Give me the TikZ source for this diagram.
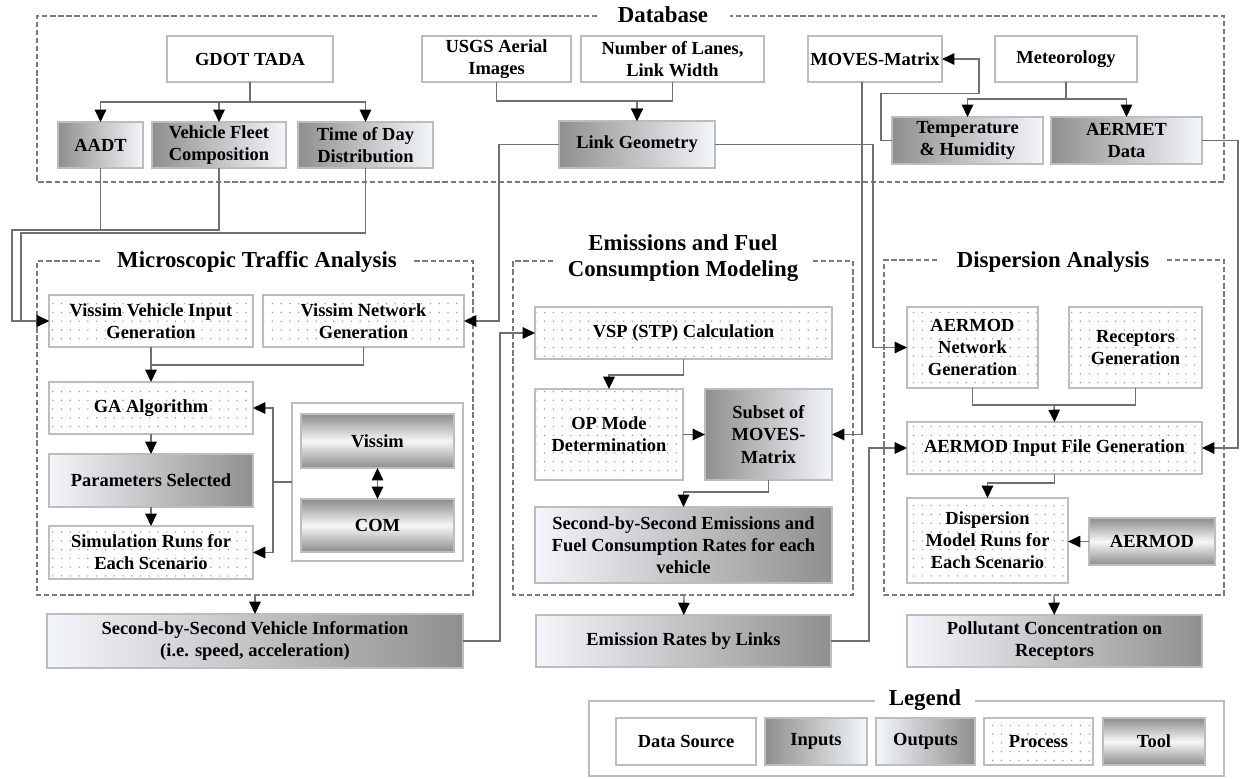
\documentclass[tikz,border=0pt]{standalone}
\usepackage{fontspec}
\setmainfont{Liberation Serif}
\usetikzlibrary{arrows.meta,calc,patterns.meta}
\definecolor{boxline}{HTML}{BDBDBD}
\definecolor{linegray}{HTML}{707070}
\definecolor{dashgray}{HTML}{7A7A7A}
\definecolor{shadedark}{HTML}{8F8F8F}
\definecolor{shadelight}{HTML}{F3F6FA}
\definecolor{tooldark}{HTML}{8C8C8C}
\definecolor{toollight}{HTML}{F7F7F7}
\definecolor{dotgray}{HTML}{9A9A9A}
% box from corner (#3,#4) to corner (#5,#6), in pixels
\newcommand{\mkbox}[7]{\node[#2, minimum width={(#5-#3)*0.02cm}, minimum height={(#6-#4)*0.02cm}] (#1) at ({(#3+#5)/2},{(#4+#6)/2}) {#7};}
\tikzset{
    base/.style = {draw = boxline, line width = 0.7pt, inner sep = 0pt, outer sep = 0pt, align = center, font = \fontsize{10.5}{12.6}\selectfont\bfseries},
    source/.style = {base, fill = white},
    inputbox/.style = {base, left color = shadedark, right color = shadelight},
    outputbox/.style = {base, left color = shadelight, right color = shadedark},
    procbox/.style = {base, pattern = {Dots[radius = 0.45pt, distance = 5pt]}, pattern color = dotgray},
    toolbox/.style = {base, top color = tooldark, bottom color = tooldark, middle color = toollight},
    link/.style = {draw = linegray, line width = 0.8pt},
    arr/.style = {link, -{Triangle[length = 7pt, width = 6.5pt, black]}},
    dblarr/.style = {link, {Triangle[length = 7pt, width = 6.5pt, black]}-{Triangle[length = 7pt, width = 6.5pt, black]}},
    dashbox/.style = {draw = dashgray, line width = 1pt, dash pattern = on 3pt off 1.6pt},
    title/.style = {font = \fontsize{13}{15}\selectfont\bfseries, align = center, inner sep = 0pt}
}
\begin{document}
\begin{tikzpicture}[x = 0.02cm, y = -0.02cm]
    \useasboundingbox (0, 0) rectangle (1241, 778);
    % groups
    \draw[dashbox] (597, 16) -| (37, 182) -| (1224, 16) -- (730, 16);
    \node[title] at (663, 15) {Database};
    \draw[dashbox] (100, 261) -| (37, 595) -| (473, 261) -- (413, 261);
    \node[title] at (257, 262) {Microscopic Traffic Analysis};
    \draw[dashbox] (553, 261) -| (513, 595) -| (853, 261) -- (812, 261);
    \node[title] at (683, 258) {Emissions and Fuel\\Consumption Modeling};
    \draw[dashbox] (937, 260) -| (884, 595) -| (1224, 260) -- (1167, 260);
    \node[title] at (1053, 262) {Dispersion Analysis};
    \coordinate (microS) at (255, 595);
    \coordinate (emisS) at (684, 595);
    \coordinate (dispS) at (1054, 595);

    % database
    \mkbox{gdot}{source}{167}{36}{333}{82}{GDOT TADA}
    \mkbox{aadt}{inputbox}{58}{122}{143}{168}{AADT}
    \mkbox{vfc}{inputbox}{152}{122}{286}{168}{Vehicle Fleet\\Composition}
    \mkbox{tod}{inputbox}{298}{122}{433}{168}{Time of Day\\Distribution}
    \mkbox{usgs}{source}{422}{36}{571}{82}{USGS Aerial\\Images}
    \mkbox{lanes}{source}{581}{36}{764}{82}{Number of Lanes,\\Link Width}
    \mkbox{lgeo}{inputbox}{559}{121}{715}{168}{Link Geometry}
    \mkbox{moves}{source}{808}{36}{942}{82}{MOVES-Matrix}
    \mkbox{meteo}{source}{995}{36}{1137}{82}{Meteorology}
    \mkbox{temp}{inputbox}{892}{117}{1043}{164}{Temperature\\\& Humidity}
    \mkbox{aermet}{inputbox}{1051}{117}{1202}{164}{AERMET\\Data}

    % microscopic traffic analysis
    \mkbox{vvig}{procbox}{49}{295}{253}{347}{Vissim Vehicle Input\\Generation}
    \mkbox{vng}{procbox}{263}{295}{464}{347}{Vissim Network\\Generation}
    \mkbox{ga}{procbox}{49}{382}{253}{434}{GA Algorithm}
    \mkbox{psel}{outputbox}{49}{454}{253}{507}{Parameters Selected}
    \mkbox{simr}{procbox}{49}{526}{253}{579}{Simulation Runs for\\Each Scenario}
    \mkbox{tools}{source}{292}{403}{463}{561}{}
    \mkbox{vissim}{toolbox}{301}{414}{454}{468}{Vissim}
    \mkbox{com}{toolbox}{301}{499}{454}{552}{COM}
    \mkbox{sbsv}{outputbox}{47}{614}{463}{668}{Second-by-Second Vehicle Information\\(i.e. speed, acceleration)}

    % emissions and fuel consumption
    \mkbox{vsp}{procbox}{535}{307}{832}{359}{VSP (STP) Calculation}
    \mkbox{opm}{procbox}{535}{389}{683}{480}{OP Mode\\Determination}
    \mkbox{subset}{inputbox}{705}{389}{832}{480}{Subset of\\MOVES-\\Matrix}
    \mkbox{sbse}{outputbox}{535}{507}{832}{583}{Second-by-Second Emissions and\\Fuel Consumption Rates for each\\vehicle}
    \mkbox{erl}{outputbox}{536}{615}{831}{667}{Emission Rates by Links}

    % dispersion
    \mkbox{ang}{procbox}{907}{307}{1038}{388}{AERMOD\\Network\\Generation}
    \mkbox{recg}{procbox}{1069}{307}{1202}{388}{Receptors\\Generation}
    \mkbox{aifg}{procbox}{907}{422}{1202}{474}{AERMOD Input File Generation}
    \mkbox{dmr}{procbox}{907}{498}{1068}{583}{Dispersion\\Model Runs for\\Each Scenario}
    \mkbox{aermod}{toolbox}{1089}{518}{1215}{565}{AERMOD}
    \mkbox{pcr}{outputbox}{907}{615}{1202}{667}{Pollutant Concentration on\\Receptors}

    % legend
    \draw[draw = boxline, line width = 0.8pt] (875, 701) -| (589, 776) -| (1224, 701) -- (975, 701);
    \node[title] at (925, 700) {Legend};
    \mkbox{lsrc}{source}{616}{718}{756}{765}{Data Source}
    \mkbox{linp}{inputbox}{765}{718}{867}{765}{Inputs}
    \mkbox{lout}{outputbox}{876}{718}{975}{765}{Outputs}
    \mkbox{lproc}{procbox}{984}{718}{1093}{765}{Process}
    \mkbox{ltool}{toolbox}{1103}{718}{1205}{765}{Tool}

    % connectors in the database
    \foreach \t in {aadt, vfc, tod}{
        \draw[arr] (gdot.south) -- ++(0, 20) -| (\t.north);
    }
    \foreach \s in {usgs, lanes}{
        \draw[arr] (\s.south) -- ++(0, 19) -| (lgeo.north);
    }
    \foreach \t in {temp, aermet}{
        \draw[arr] (meteo.south) -- ++(0, 17) -| (\t.north);
    }
    \draw[arr] (temp.west) -- ++(-11, 0) |- ++(98, -47) |- (moves.east);

    % connectors leaving the database
    \coordinate (jA) at (12, 230);
    \coordinate (jB) at (21, 233);
    \draw[link] (aadt.south) -- (aadt.south |- jA);
    \draw[arr] (vfc.south) |- (jA) |- (vvig.west);
    \draw[arr] (tod.south) |- (jB) |- (vvig.west);
    \draw[arr] (lgeo.west) -- ++(-60, 0) |- (vng.east);
    \draw[arr] (lgeo.east) -- ++(158, 0) |- (ang.west);
    \draw[arr] ($(moves.south) + (-13, 0)$) |- (subset.east);
    \draw[arr] (aermet.east) -- ++(36, 0) |- (aifg.east);

    % microscopic traffic analysis
    \draw[link] (vng.south) |- ($(vvig.south) + (0, 18)$);
    \draw[arr] (vvig.south) -- (ga.north);
    \draw[arr] (ga) -- (psel);
    \draw[arr] (psel) -- (simr);
    \draw[arr] (tools.west) -- ++(-19, 0) coordinate (jT) |- (ga.east);
    \draw[arr] (jT) |- (simr.east);
    \draw[dblarr] (vissim) -- (com);
    \draw[arr] (microS) -- (sbsv);
    \draw[arr] (sbsv.east) -- ++(37, 0) |- (vsp.west);

    % emissions and fuel consumption
    \draw[arr] (vsp.south) -- ++(0, 16) -| (opm.north);
    \draw[arr] (opm) -- (subset);
    \draw[arr] (subset.south) -- ++(0, 12) -| (sbse.north);
    \draw[arr] (emisS) -- (erl);
    \draw[arr] (erl.east) -- ++(38, 0) |- (aifg.west);

    % dispersion
    \draw[link] (ang.south) -- ++(0, 17) -| (recg.south);
    \draw[arr] ($(ang.south)!0.5!(recg.south) + (0, 17)$) -- (aifg.north);
    \draw[arr] (aifg.south) -- ++(0, 9) -| (dmr.north);
    \draw[arr] (aermod.west) -- (aermod.west -| dmr.east);
    \draw[arr] (dispS) -- (pcr);
\end{tikzpicture}
\end{document}
